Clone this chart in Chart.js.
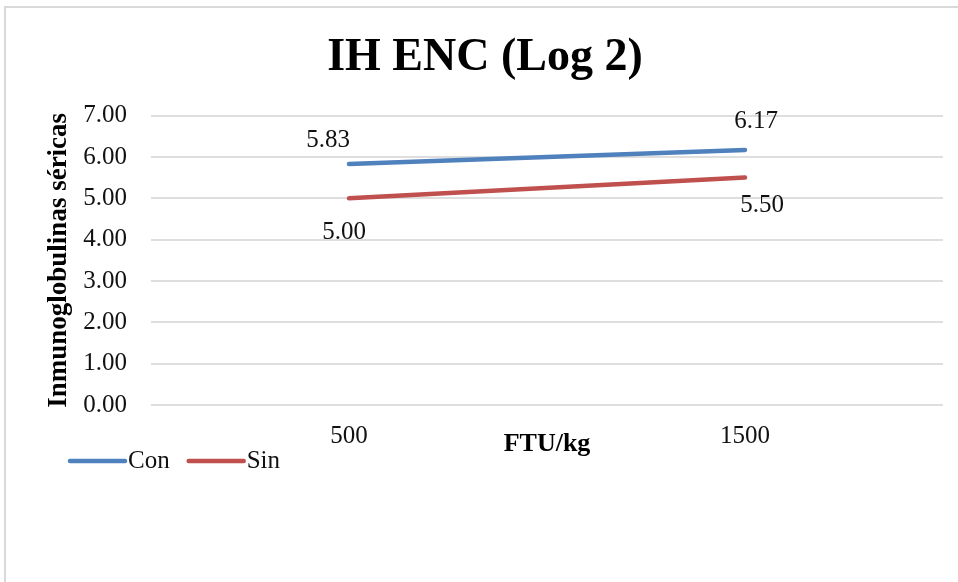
<!DOCTYPE html>
<html>
<head>
<meta charset="utf-8">
<script src="https://cdn.jsdelivr.net/npm/chart.js@4/dist/chart.umd.min.js"></script>
<style>
  html, body { margin: 0; padding: 0; background: #fff; }
  #wrap { position: relative; width: 958px; height: 582px; overflow: hidden; }
</style>
</head>
<body>
<div id="wrap"><canvas id="myChart" width="958" height="582"></canvas></div>
<script>
// data
var categories = ['500', '1500'];
var conValues = [5.83, 6.17];
var sinValues = [5.00, 5.50];
var seriesNames = ['Con', 'Sin'];
var yMin = 0, yMax = 7, yStep = 1;

var serif = '"Liberation Serif", "Times New Roman", serif';

// where each series puts its value labels, relative to the point
var labelOffsets = [
    [[-21, -24], [11, -28]],
    [[-5, 34], [17, 28]]
];

var frame = {
    id: 'frame',
    beforeDraw: function(chart) {
        var ctx = chart.ctx;
        ctx.save();
        ctx.fillStyle = '#fff';
        ctx.fillRect(0, 0, chart.width, chart.height);
        ctx.strokeStyle = '#d9d9d9';
        ctx.lineWidth = 2;
        ctx.strokeRect(5, 7, 2000, 2000);
        ctx.restore();
    }
};

var valueLabels = {
    id: 'valueLabels',
    afterDatasetsDraw: function(chart) {
        var ctx = chart.ctx;
        ctx.save();
        ctx.font = '25px ' + serif;
        ctx.fillStyle = '#111';
        ctx.textAlign = 'center';
        ctx.textBaseline = 'middle';
        chart.data.datasets.forEach(function(ds, i) {
            var meta = chart.getDatasetMeta(i);
            meta.data.forEach(function(pt, j) {
                var off = labelOffsets[i][j];
                ctx.fillText(ds.data[j].toFixed(2), pt.x + off[0], pt.y + off[1]);
            });
        });
        ctx.restore();
    }
};

// legend sits beside the axis title, so it is drawn by hand
var lineLegend = {
    id: 'lineLegend',
    afterDraw: function(chart) {
        var ctx = chart.ctx;
        var x = 70, y = 461;
        ctx.save();
        ctx.font = '25px ' + serif;
        ctx.textBaseline = 'middle';
        ctx.textAlign = 'left';
        chart.data.datasets.forEach(function(ds) {
            ctx.strokeStyle = ds.borderColor;
            ctx.lineWidth = 4.5;
            ctx.lineCap = 'round';
            ctx.beginPath();
            ctx.moveTo(x, y);
            ctx.lineTo(x + 55, y);
            ctx.stroke();
            ctx.fillStyle = '#111';
            ctx.fillText(ds.label, x + 58, y);
            x += 58 + ctx.measureText(ds.label).width + 19;
        });
        ctx.restore();
    }
};

var chart = new Chart(document.getElementById('myChart').getContext('2d'), {
    type: 'line',
    data: {
        labels: categories,
        datasets: [{
            label: seriesNames[0],
            data: conValues,
            borderColor: '#4f81bd',
            backgroundColor: '#4f81bd',
            borderWidth: 4.5,
            borderCapStyle: 'round',
            pointRadius: 0,
            tension: 0
        }, {
            label: seriesNames[1],
            data: sinValues,
            borderColor: '#c0504d',
            backgroundColor: '#c0504d',
            borderWidth: 4.5,
            borderCapStyle: 'round',
            pointRadius: 0,
            tension: 0
        }]
    },
    options: {
        responsive: false,
        animation: false,
        devicePixelRatio: 1,
        layout: { padding: { top: 12, left: 27, right: 15, bottom: 117 } },
        plugins: {
            legend: { display: false },
            tooltip: { enabled: false },
            title: {
                display: true,
                text: 'IH ENC (Log 2)',
                color: '#000',
                font: { family: serif, size: 46, weight: 'bold', lineHeight: 1.2 },
                padding: { top: 18.4, bottom: 30 }
            }
        },
        scales: {
            x: {
                offset: true,
                grid: { display: false, drawTicks: false },
                border: { display: false },
                ticks: { color: '#111', padding: 16, font: { family: serif, size: 25 } },
                title: {
                    display: true,
                    text: 'FTU/kg',
                    color: '#000',
                    font: { family: serif, size: 26, weight: 'bold', lineHeight: 1.2 },
                    padding: { top: 0, bottom: 5.4 }
                },
                afterFit: function(scale) { scale.height = 60; }
            },
            y: {
                min: yMin,
                max: yMax,
                grid: { color: '#dedede', lineWidth: 2, drawTicks: false },
                border: { display: false },
                ticks: {
                    stepSize: yStep,
                    color: '#111',
                    padding: 24,
                    font: { family: serif, size: 25 },
                    callback: function(v) { return v.toFixed(2); }
                },
                title: {
                    display: true,
                    text: 'Inmunoglobulinas séricas',
                    color: '#000',
                    font: { family: serif, size: 27, weight: 'bold', lineHeight: 1.2 },
                    padding: { top: 15.8, bottom: 0 }
                },
                afterFit: function(scale) { scale.width = 124; }
            }
        }
    },
    plugins: [frame, valueLabels, lineLegend]
});
</script>
</body>
</html>
